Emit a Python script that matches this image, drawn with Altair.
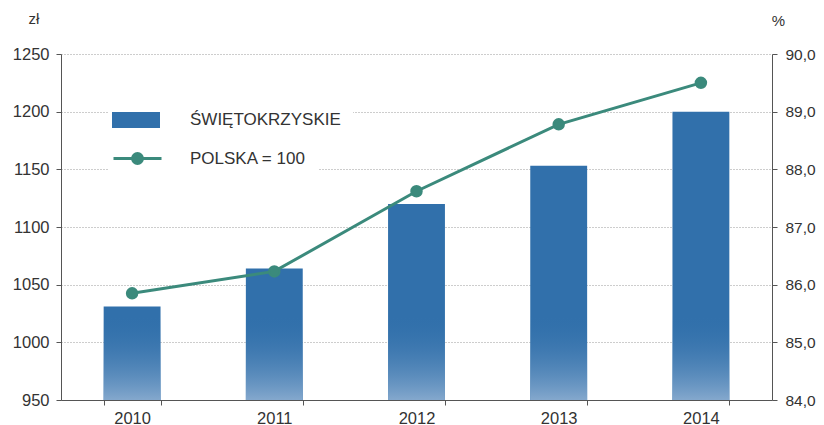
import altair as alt
import pandas as pd

years = ["2010", "2011", "2012", "2013", "2014"]
wages = [1031, 1064, 1120, 1153, 1200]
index_pl = [85.85, 86.23, 87.62, 88.78, 89.50]

bar_label = "ŚWIĘTOKRZYSKIE"
line_label = "POLSKA = 100"

df = pd.DataFrame({"year": years, "wage": wages, "idx": index_pl,
                   "bar_s": bar_label, "line_s": line_label})

FONT = "Liberation Sans"
BLUE = "#3170AB"
TEAL = "#3B8A7C"
TXT = "#333333"
AX = "#555555"
Y_MIN = 950
NBSP_PAD = "\u00a0" * 9

x = alt.X("year:N", title=None,
          scale=alt.Scale(paddingInner=0.6, paddingOuter=0.3),
          axis=alt.Axis(labelAngle=0, labelFontSize=16.5, labelColor=TXT, labelFont=FONT,
                        tickBand="extent", domainColor=AX, tickColor=AX, tickSize=5,
                        labelPadding=5, grid=False))

yscale = alt.Scale(domain=[Y_MIN, 1250], zero=False, nice=False)
yaxis = alt.Axis(title="zł", titleAngle=0, titleAlign="left", titleBaseline="middle",
                 titleX=-33, titleY=-36, titleFontSize=15, titleFont=FONT,
                 titleFontWeight="normal", titleColor=TXT, format="d",
                 values=[950, 1000, 1050, 1100, 1150, 1200, 1250],
                 labelFontSize=16.5, labelColor=TXT, labelFont=FONT,
                 tickSize=5, labelPadding=7, domainColor=AX, tickColor=AX,
                 grid=True, gridColor="#9a9a9a", gridDash=[1, 2], gridWidth=1)

bars = alt.Chart(df).mark_bar(color=BLUE).encode(
    x=x,
    y=alt.Y("wage:Q", scale=yscale, axis=yaxis, title="zł"),
    y2=alt.datum(Y_MIN),
    opacity=alt.Opacity("bar_s:N", scale=alt.Scale(domain=[bar_label], range=[1]),
                        legend=alt.Legend(title=None, orient="none", legendX=47, legendY=38,
                                          symbolType="M-1.5,-0.5H1.5V0.5H-1.5Z", symbolSize=1024,
                                          symbolFillColor=BLUE, symbolStrokeWidth=0,
                                          symbolOpacity=1,
                                          labelFontSize=17, labelFont=FONT,
                                          labelColor=TXT, labelOffset=38, padding=12,
                                          fillColor="white"))
)

fade = alt.Chart(df).transform_calculate(
    fade_top="min(datum.wage, 1024)"
).mark_bar(
    color=alt.Gradient(gradient="linear", x1=0, x2=0, y1=0, y2=1,
                       stops=[alt.GradientStop(color="rgba(49,112,171,0)", offset=0),
                              alt.GradientStop(color="#84A8CD", offset=1)])
).encode(
    x=x,
    y=alt.Y("fade_top:Q", scale=yscale, axis=yaxis, title="zł"),
    y2=alt.datum(Y_MIN),
)

left = alt.layer(bars, fade)

line = alt.Chart(df).mark_line(strokeWidth=3, color=TEAL, point=alt.OverlayMarkDef(
    filled=True, size=110, color=TEAL)).encode(
    x=x,
    y=alt.Y("idx:Q", scale=alt.Scale(domain=[84, 90], zero=False, nice=False),
            axis=alt.Axis(title="%", orient="right", titleAngle=0, titleAlign="center",
                          titleBaseline="middle", titleX=6, titleY=-34, titleFontSize=15,
                          titleFont=FONT, titleFontWeight="normal", titleColor=TXT,
                          values=[84, 85, 86, 87, 88, 89, 90],
                          labelExpr="replace(format(datum.value, '.1f'), '.', ',')",
                          labelFontSize=15.5, labelColor=TXT, labelFont=FONT,
                          tickSize=5, labelPadding=8, domainColor=AX, tickColor=AX,
                          grid=False)),
    stroke=alt.Stroke("line_s:N", scale=alt.Scale(domain=[line_label], range=[TEAL]),
                      legend=alt.Legend(title=None, orient="none", legendX=47, legendY=75,
                                        symbolType="M-1.5,0H1.5M0.31,0A0.31,0.31,0,1,1,-0.31,0A0.31,0.31,0,1,1,0.31,0Z",
                                        symbolSize=1024, symbolStrokeWidth=3,
                                        symbolFillColor=TEAL, labelFontSize=17,
                                        labelFont=FONT, labelColor=TXT, labelOffset=35,
                                        labelExpr="datum.label + '" + NBSP_PAD + "'",
                                        padding=12, fillColor="white"))
)

chart = alt.layer(left, line).resolve_scale(
    y="independent"
).properties(
    width=711, height=346,
    autosize=alt.AutoSizeParams(type="none"),
    padding={"left": 53, "top": 46, "right": 44, "bottom": 25},
    background="white"
).configure_view(stroke=None)

chart.save("out.html", embed_options={"renderer": "svg", "actions": False})
